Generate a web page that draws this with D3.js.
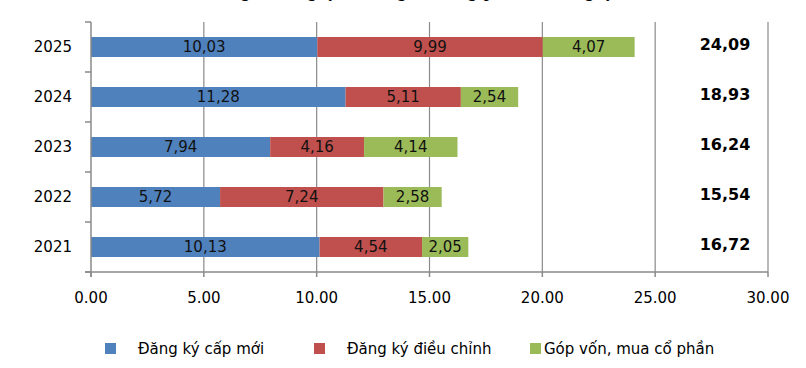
<!DOCTYPE html>
<html><head><meta charset="utf-8">
<script src="https://cdn.jsdelivr.net/npm/d3@7"></script>
<style>html,body{margin:0;padding:0;background:#fff;overflow:hidden}</style>
</head><body>
<svg id="c" width="806" height="368"></svg>
<script>
const years = ["2025","2024","2023","2022","2021"];
const newReg = [10.03, 11.28, 7.94, 5.72, 10.13];
const adjReg = [9.99, 5.11, 4.16, 7.24, 4.54];
const capContrib = [4.07, 2.54, 4.14, 2.58, 2.05];
const seriesNames = ["Đăng ký cấp mới", "Đăng ký điều chỉnh", "Góp vốn, mua cổ phần"];
const seriesColors = ["#4F81BD", "#C0504D", "#9BBB59"];
const xTicks = [0, 5, 10, 15, 20, 25, 30];
const titleText = "Biểu đồ: Tổng vốn đăng ký mới, tăng thêm và góp vốn theo đăng ký";

const svg = d3.select("#c");
const FONT = "DejaVu Sans";
const gray = "#8a8a8a";

const x = d3.scaleLinear().domain([0, 30]).range([91, 768]);
const y = d3.scaleBand().domain(years).range([22, 272]).paddingInner(0.6).paddingOuter(0.3);
const step = y.step();

// title (cut off at top, as in the reference)
const t = svg.append("text").attr("font-family", "Liberation Serif").attr("font-weight", "bold")
  .attr("font-size", 16).attr("y", -2.8).attr("x", 0).text(titleText);
try {
  const idx = titleText.indexOf("Tổng") + 3;
  const off = t.node().getSubStringLength(0, idx);
  t.attr("x", 245 - off - 4);
} catch (e) { t.attr("x", 150); }

// gridlines
svg.append("g").selectAll("line").data(xTicks.filter(d => d > 0)).join("line")
  .attr("x1", d => x(d)).attr("x2", d => x(d))
  .attr("y1", 22).attr("y2", 272).attr("stroke", gray).attr("stroke-width", 1.2);

// stacked data
const rows = years.map((yr, i) => ({ year: yr, vals: [newReg[i], adjReg[i], capContrib[i]] }));
const stackData = rows.map(r => { const o = { year: r.year }; r.vals.forEach((v, k) => o["s" + k] = v); return o; });
const stack = d3.stack().keys(["s0", "s1", "s2"])(stackData);

const g = svg.append("g");
stack.forEach((layer, k) => {
  g.selectAll(null).data(layer).join("rect")
    .attr("x", d => x(d[0])).attr("width", d => x(d[1]) - x(d[0]))
    .attr("y", d => y(d.data.year)).attr("height", y.bandwidth())
    .attr("fill", seriesColors[k]);
});
stack.forEach((layer, k) => {
  g.selectAll(null).data(layer).join("text")
    .attr("x", d => (x(d[0]) + x(d[1])) / 2)
    .attr("y", d => y(d.data.year) + y.bandwidth() / 2)
    .attr("dy", "0.36em").attr("text-anchor", "middle")
    .attr("font-family", FONT).attr("font-size", 15).attr("fill", "#111")
    .text(d => d3.format(".2f")(d[1] - d[0]).replace(".", ","));
});

// totals
svg.append("g").selectAll("text").data(rows).join("text")
  .attr("x", 725).attr("y", d => y(d.year) + y.bandwidth() / 2)
  .attr("dy", "0.2em").attr("text-anchor", "middle")
  .attr("font-family", FONT).attr("font-weight", "bold").attr("font-size", 16).attr("fill", "#000")
  .text(d => d3.format(".2f")(d3.sum(d.vals)).replace(".", ","));

// y axis
const ax = svg.append("g");
ax.append("line").attr("x1", 91).attr("x2", 91).attr("y1", 22).attr("y2", 277).attr("stroke", gray).attr("stroke-width", 1.5);
const bounds = years.map(yr => y(yr) - step * 0.3).concat([272]);
ax.selectAll("line.yt").data(bounds).join("line").attr("class", "yt")
  .attr("x1", 85).attr("x2", 91).attr("y1", d => d).attr("y2", d => d).attr("stroke", gray).attr("stroke-width", 1.5);
ax.selectAll("text.yl").data(years).join("text").attr("class", "yl")
  .attr("x", 72).attr("y", d => y(d) + y.bandwidth() / 2).attr("dy", "0.36em")
  .attr("text-anchor", "end").attr("font-family", FONT).attr("font-size", 15).attr("fill", "#000").text(d => d);

// x axis
ax.append("line").attr("x1", 85).attr("x2", 768).attr("y1", 272).attr("y2", 272).attr("stroke", gray).attr("stroke-width", 1.5);
ax.selectAll("line.xt").data(xTicks).join("line").attr("class", "xt")
  .attr("x1", d => x(d)).attr("x2", d => x(d)).attr("y1", 272).attr("y2", 277).attr("stroke", gray).attr("stroke-width", 1.5);
ax.selectAll("text.xl").data(xTicks).join("text").attr("class", "xl")
  .attr("x", d => x(d)).attr("y", 303).attr("text-anchor", "middle")
  .attr("font-family", FONT).attr("font-size", 15).attr("fill", "#000").text(d => d3.format(".2f")(d));

// legend
const legX = [105, 314, 530];
const lg = svg.append("g");
seriesNames.forEach((n, i) => {
  lg.append("rect").attr("x", legX[i]).attr("y", 343).attr("width", 11).attr("height", 11).attr("fill", seriesColors[i]);
  lg.append("text").attr("x", legX[i] + (i === 2 ? 14 : 33)).attr("y", 348.5).attr("dy", "0.36em")
    .attr("font-family", FONT).attr("font-size", 15).attr("fill", "#000").text(n);
});
</script>
</body></html>
